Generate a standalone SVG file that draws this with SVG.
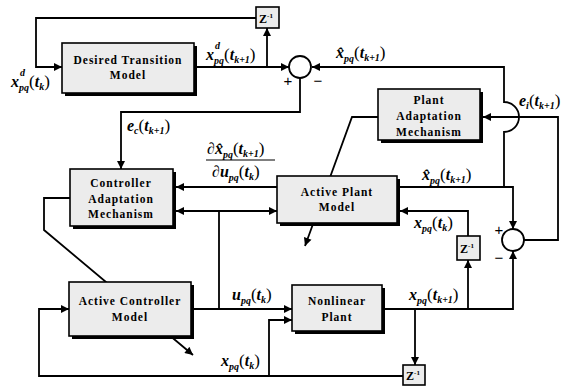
<svg xmlns="http://www.w3.org/2000/svg" width="565" height="387" viewBox="0 0 565 387">
<style>
.bx{fill:#ececec;stroke:#000;stroke-width:1.6}
.sh{fill:#000}
.t{font-family:"Liberation Serif",serif;font-weight:bold;font-size:11.5px;letter-spacing:1px;text-anchor:middle}
.m{font-family:"Liberation Serif",serif;font-style:italic;font-weight:bold;font-size:16px}
.s{font-size:10px}
.p{font-style:normal;font-weight:normal;font-size:17px}
.z{font-family:"Liberation Serif",serif;font-weight:bold;font-size:12px;text-anchor:middle}
.ln{fill:none;stroke:#000;stroke-width:1.8}
.sg{font-family:"Liberation Sans",sans-serif;font-size:15px;text-anchor:middle}
</style>
<defs>
<marker id="a" viewBox="0 0 10 10" refX="10" refY="5" markerWidth="9" markerHeight="8" markerUnits="userSpaceOnUse" orient="auto-start-reverse">
<path d="M0,0 L10,5 L0,10 Z" fill="#000"/>
</marker>
</defs>
<g id="connectors">
<path class="ln" d="M256,18 H36 V67 H62" marker-end="url(#a)"/>
<path class="ln" d="M197,67 H289" marker-end="url(#a)"/>
<path class="ln" d="M267,67 V28" marker-end="url(#a)"/>
<path class="ln" d="M504,187 V132 A15,15 0 0 0 504,102 V67 H312" marker-end="url(#a)"/>
<path class="ln" d="M300,78 V112 H121 V169" marker-end="url(#a)"/>
<path class="ln" d="M400,187 H513 V229" marker-end="url(#a)"/>
<path class="ln" d="M524,240 H558 V117 H483" marker-end="url(#a)"/>
<path class="ln" d="M378,117 H352 L305,246" marker-end="url(#a)"/>
<path class="ln" d="M70,198 H44 V230 L193,355" marker-end="url(#a)"/>
<path class="ln" d="M277,187 H176" marker-end="url(#a)"/>
<path class="ln" d="M176,211 H277" marker-start="url(#a)" marker-end="url(#a)"/>
<path class="ln" d="M219,309 V211"/>
<path class="ln" d="M194,309 H292" marker-end="url(#a)"/>
<path class="ln" d="M269,376 V320 H292" marker-end="url(#a)"/>
<path class="ln" d="M403,376 H39 V309 H69" marker-end="url(#a)"/>
<path class="ln" d="M385,309 H513 V251" marker-end="url(#a)"/>
<path class="ln" d="M415,309 V365" marker-end="url(#a)"/>
<path class="ln" d="M468,309 V260" marker-end="url(#a)"/>
<path class="ln" d="M468,236 V211 H400" marker-end="url(#a)"/>
<line x1="206" y1="160" x2="275" y2="160" stroke="#000" stroke-width="1.2"/>
</g>
<g id="sum1">
<circle cx="300" cy="67" r="11" fill="#fff" stroke="#000" stroke-width="1.8"/>
<text class="sg" x="288" y="86">+</text>
<text class="sg" x="318" y="86">−</text>
</g>
<g id="sum2">
<circle cx="513" cy="240" r="11" fill="#fff" stroke="#000" stroke-width="1.8"/>
<text class="sg" x="499" y="235">+</text>
<text class="sg" x="499" y="263">−</text>
</g>
<g id="desired-transition-model">
<rect class="sh" x="65" y="46" width="132" height="50"/>
<rect class="bx" x="62" y="43" width="132" height="50"/>
<text class="t" x="128" y="64">Desired Transition</text>
<text class="t" x="128" y="79">Model</text>
</g>
<g id="plant-adaptation-mechanism">
<rect class="sh" x="381" y="92" width="102" height="51"/>
<rect class="bx" x="378" y="89" width="102" height="51"/>
<text class="t" x="429" y="104">Plant</text>
<text class="t" x="429" y="120">Adaptation</text>
<text class="t" x="429" y="136">Mechanism</text>
</g>
<g id="controller-adaptation-mechanism">
<rect class="sh" x="73" y="172" width="103" height="57"/>
<rect class="bx" x="70" y="169" width="103" height="57"/>
<text class="t" x="121" y="187">Controller</text>
<text class="t" x="121" y="203">Adaptation</text>
<text class="t" x="121" y="218">Mechanism</text>
</g>
<g id="active-plant-model">
<rect class="sh" x="280" y="179" width="120" height="47"/>
<rect class="bx" x="277" y="176" width="120" height="47"/>
<text class="t" x="337" y="196">Active Plant</text>
<text class="t" x="337" y="211">Model</text>
</g>
<g id="active-controller-model">
<rect class="sh" x="72" y="285" width="122" height="54"/>
<rect class="bx" x="69" y="282" width="122" height="54"/>
<text class="t" x="130" y="305">Active Controller</text>
<text class="t" x="130" y="321">Model</text>
</g>
<g id="nonlinear-plant">
<rect class="sh" x="295" y="288" width="90" height="46"/>
<rect class="bx" x="292" y="285" width="90" height="46"/>
<text class="t" x="337" y="305">Nonlinear</text>
<text class="t" x="337" y="321">Plant</text>
</g>
<g id="z1-top">
<rect class="bx" x="256" y="7" width="23" height="21" stroke-width="2"/>
<text class="z" x="266" y="23">Z<tspan font-size="7" dy="-5">-1</tspan></text>
</g>
<g id="z1-mid">
<rect class="bx" x="457" y="236" width="23" height="24" stroke-width="2"/>
<text class="z" x="467" y="253">Z<tspan font-size="7" dy="-5">-1</tspan></text>
</g>
<g id="z1-bottom">
<rect class="bx" x="403" y="365" width="22" height="20" stroke-width="2"/>
<text class="z" x="413" y="380">Z<tspan font-size="7" dy="-5">-1</tspan></text>
</g>
<g id="labels">
<text class="m" x="11" y="87">x<tspan class="s" dy="4">pq</tspan><tspan class="p" dy="-4">(</tspan>t<tspan class="s" dy="3">k</tspan><tspan class="p" dy="-3">)</tspan></text>
<text class="m s" x="20" y="76">d</text>
<text class="m" x="206" y="60">x<tspan class="s" dy="4">pq</tspan><tspan class="p" dy="-4">(</tspan>t<tspan class="s" dy="3">k+1</tspan><tspan class="p" dy="-3">)</tspan></text>
<text class="m s" x="215" y="49">d</text>
<text class="m" x="336" y="58">x̂<tspan class="s" dy="4">pq</tspan><tspan class="p" dy="-4">(</tspan>t<tspan class="s" dy="3">k+1</tspan><tspan class="p" dy="-3">)</tspan></text>
<text class="m" x="127" y="131">e<tspan class="s" dy="3">c</tspan><tspan class="p" dy="-3">(</tspan>t<tspan class="s" dy="3">k+1</tspan><tspan class="p" dy="-3">)</tspan></text>
<text class="m" x="519" y="106">e<tspan class="s" dy="3">i</tspan><tspan class="p" dy="-3">(</tspan>t<tspan class="s" dy="3">k+1</tspan><tspan class="p" dy="-3">)</tspan></text>
<text class="m" x="207" y="154">∂x̂<tspan class="s" dy="4">pq</tspan><tspan class="p" dy="-4">(</tspan>t<tspan class="s" dy="3">k+1</tspan><tspan class="p" dy="-3">)</tspan></text>
<text class="m" x="212" y="177">∂u<tspan class="s" dy="4">pq</tspan><tspan class="p" dy="-4">(</tspan>t<tspan class="s" dy="3">k</tspan><tspan class="p" dy="-3">)</tspan></text>
<text class="m" x="422" y="180">x̂<tspan class="s" dy="4">pq</tspan><tspan class="p" dy="-4">(</tspan>t<tspan class="s" dy="3">k+1</tspan><tspan class="p" dy="-3">)</tspan></text>
<text class="m" x="414" y="228">x<tspan class="s" dy="4">pq</tspan><tspan class="p" dy="-4">(</tspan>t<tspan class="s" dy="3">k</tspan><tspan class="p" dy="-3">)</tspan></text>
<text class="m" x="409" y="300">x<tspan class="s" dy="4">pq</tspan><tspan class="p" dy="-4">(</tspan>t<tspan class="s" dy="3">k+1</tspan><tspan class="p" dy="-3">)</tspan></text>
<text class="m" x="232" y="300">u<tspan class="s" dy="4">pq</tspan><tspan class="p" dy="-4">(</tspan>t<tspan class="s" dy="3">k</tspan><tspan class="p" dy="-3">)</tspan></text>
<text class="m" x="221" y="366">x<tspan class="s" dy="4">pq</tspan><tspan class="p" dy="-4">(</tspan>t<tspan class="s" dy="3">k</tspan><tspan class="p" dy="-3">)</tspan></text>
</g>
</svg>
